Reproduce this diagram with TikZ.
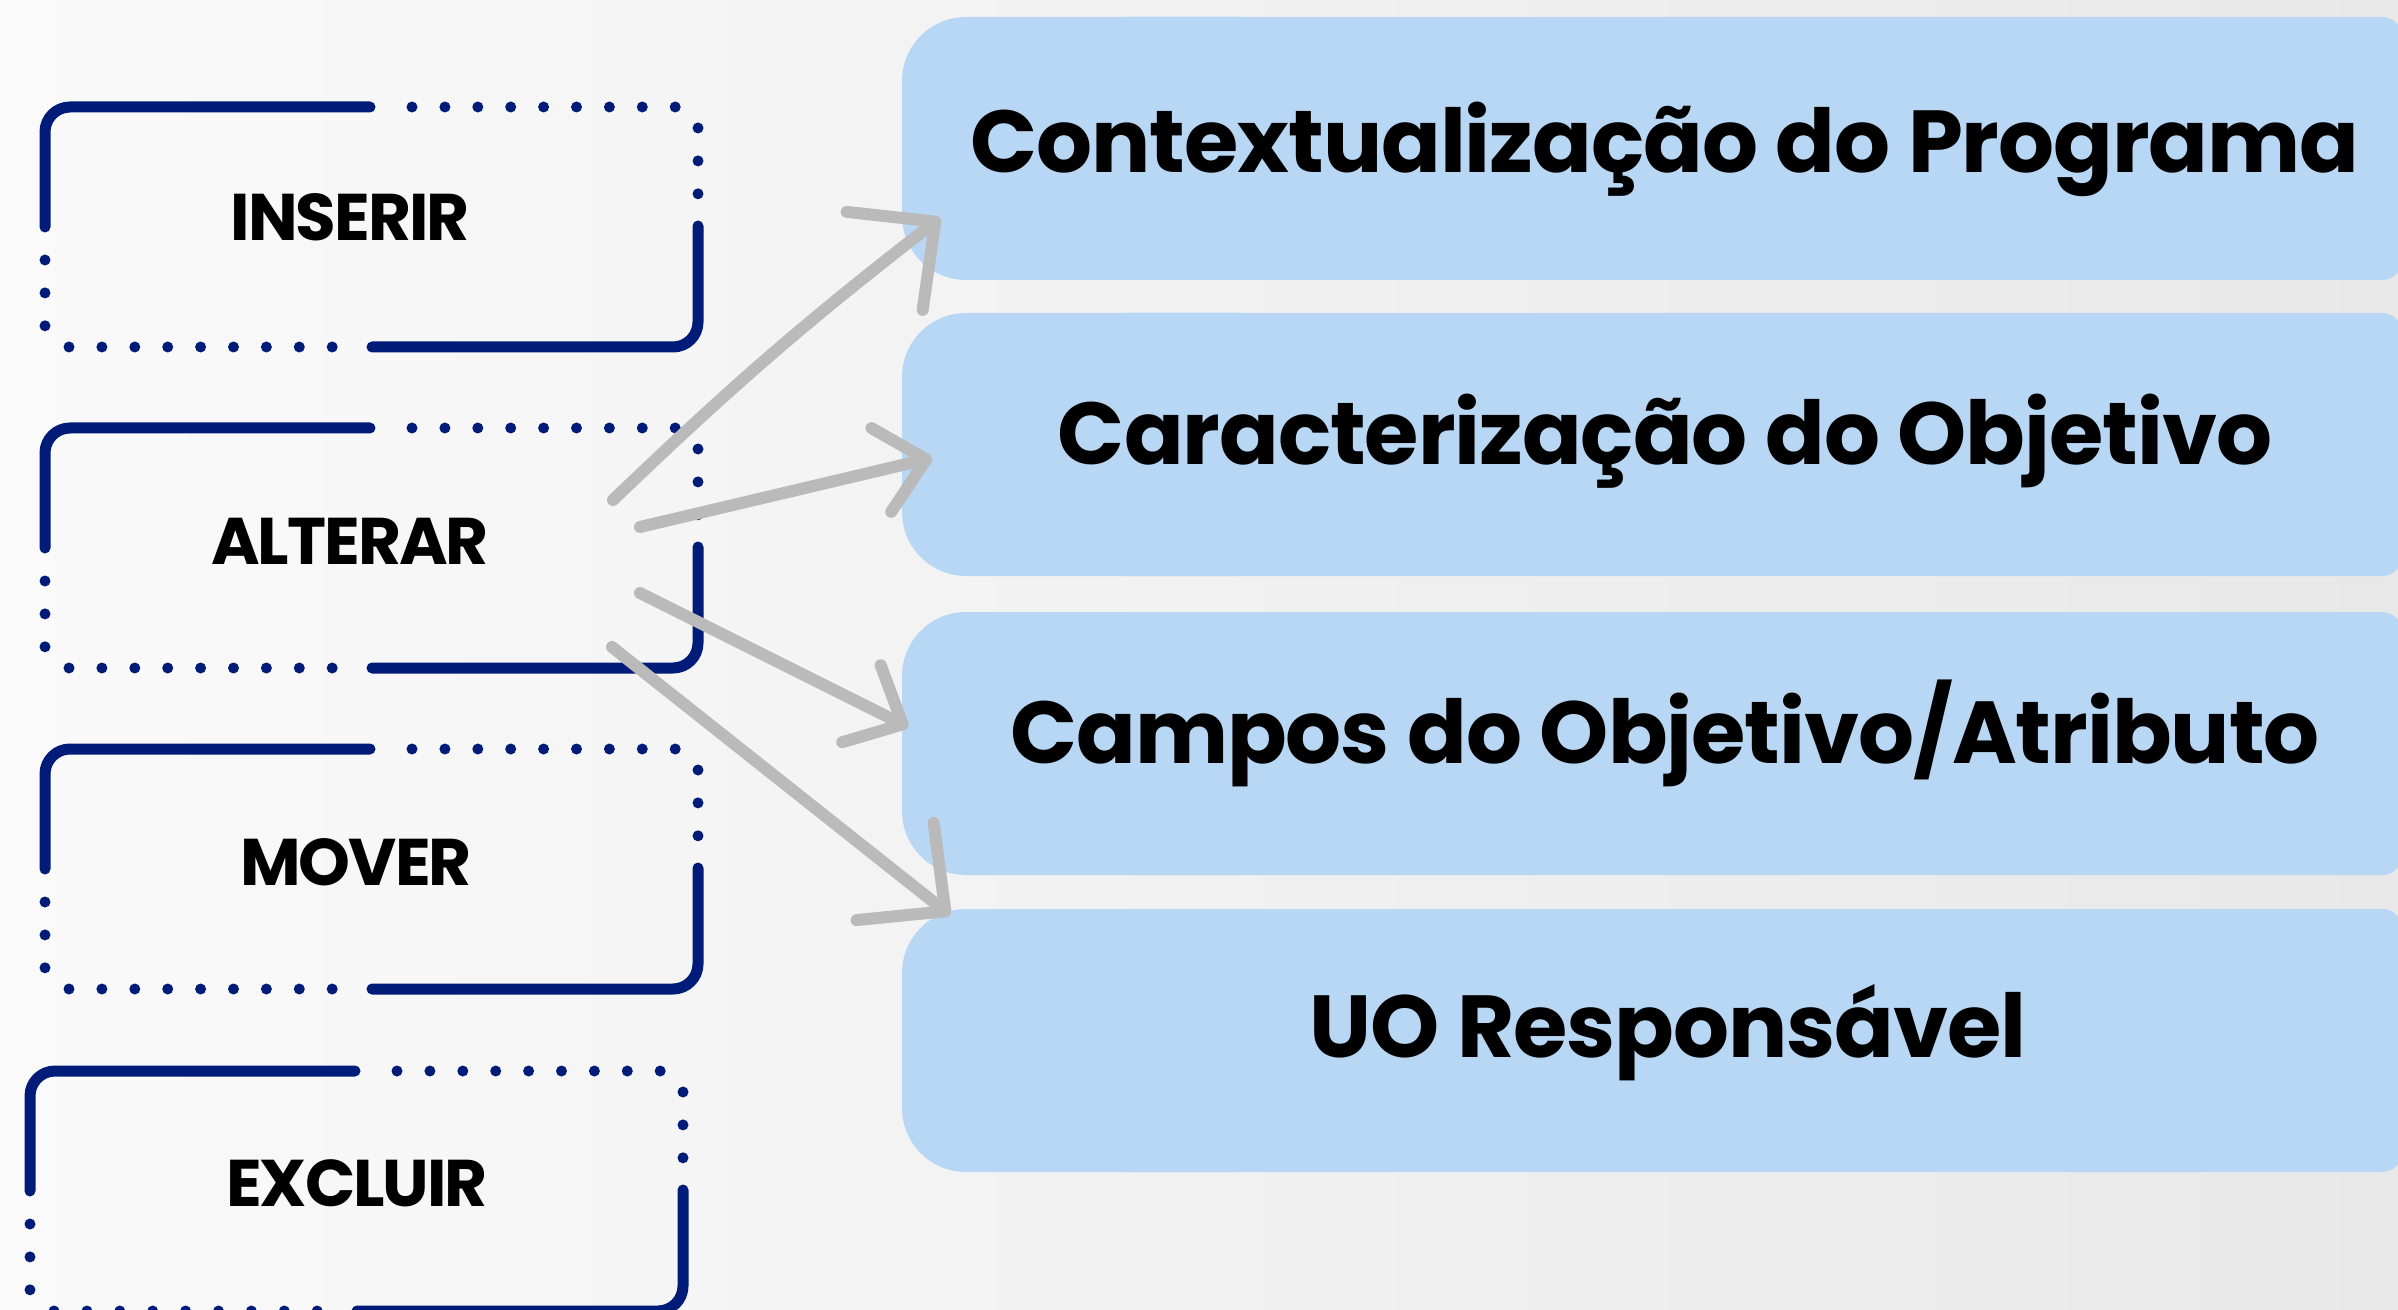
\documentclass[tikz,border=0pt]{standalone}
\usepackage{fontspec}
\setmainfont{Poppins}
\usetikzlibrary{calc,arrows.meta}
\definecolor{navy}{HTML}{001C78}
\definecolor{skyfill}{HTML}{B8D7F4}
\definecolor{pencilgray}{HTML}{BABABA}
\def\drawnavy{\draw[navy, line width=5.5pt, line cap=round, rounded corners=12.5pt]}
\def\drawdots{\draw[navy, line width=5.5pt, line cap=round, dash pattern=on 0pt off 16.45pt]}
\def\fillsky{\fill[skyfill]}

\begin{document}
\begin{tikzpicture}[x=0.5pt,y=-0.5pt,inner sep=0pt,
  pencilline/.style={draw=pencilgray, line width=6pt, line cap=round},
  bighead/.style={-{Straight Barb[length=32pt,width=62pt,round]}},
  smallhead/.style={-{Straight Barb[length=23pt,width=43pt,round]}},
  verbtext/.style={font=\bfseries\fontsize{33pt}{40pt}\selectfont\addfontfeature{LetterSpace=-3}},
  titletext/.style={font=\bfseries\fontsize{44pt}{52pt}\selectfont\addfontfeature{LetterSpace=-1.2}, anchor=base}]
\useasboundingbox (0,0) rectangle (2398,1310);
\shade[left color=black!2, middle color=white, right color=black!9] (0,0) rectangle (2398,1310);

% -------- blue boxes on the right ---------
% each box is a wide rounded left end and a tighter rounded right end
\coordinate (ctx) at (902,17); % top left of the box
\fillsky[rounded corners=32pt] (ctx) rectangle ($ (ctx) + (400,263) $);
\fillsky[rounded corners=10pt] ($ (ctx) + (200,0) $) rectangle ($ (ctx) + (1500,263) $);
\node[titletext] (ctxtext) at ($ (ctx) + (763,156) $) {Contextualização do Programa};

\coordinate (car) at (902,313);
\fillsky[rounded corners=32pt] (car) rectangle ($ (car) + (400,263) $);
\fillsky[rounded corners=10pt] ($ (car) + (200,0) $) rectangle ($ (car) + (1500,263) $);
\node[titletext] (cartext) at ($ (car) + (763,152) $) {Caracterização do Objetivo};

\coordinate (cmp) at (902,612);
\fillsky[rounded corners=32pt] (cmp) rectangle ($ (cmp) + (400,263) $);
\fillsky[rounded corners=10pt] ($ (cmp) + (200,0) $) rectangle ($ (cmp) + (1500,263) $);
\node[titletext] (cmptext) at ($ (cmp) + (763,151) $) {Campos do Objetivo/Atributo};

\coordinate (uo) at (902,909);
\fillsky[rounded corners=32pt] (uo) rectangle ($ (uo) + (400,263) $);
\fillsky[rounded corners=10pt] ($ (uo) + (200,0) $) rectangle ($ (uo) + (1500,263) $);
\node[titletext] (uotext) at ($ (uo) + (766,148) $) {UO Responsável};

% -------- INSERIR box ---------
% All coordinates are relative to the top left corner (o) of the box.
\coordinate (o) at (45,107);
\drawnavy ($ (o) + (0,120) $) -- (o) -- ($ (o) + (325,0) $);
\drawnavy ($ (o) + (653,119) $) -- ($ (o) + (653,240) $) -- ($ (o) + (327,240) $);
\drawdots ($ (o) + (367,0) $) -- ($ (o) + (631,0) $);
\drawdots ($ (o) + (653,21) $) -- ($ (o) + (653,88) $);
\drawdots ($ (o) + (24,240) $) -- ($ (o) + (288,240) $);
\drawdots ($ (o) + (0,153) $) -- ($ (o) + (0,220) $);
\node[verbtext] (inserir) at ($ (o) + (305,110) $) {INSERIR};
% ------ end INSERIR ------

% -------- ALTERAR box ---------
\coordinate (o) at (45,428);
\drawnavy ($ (o) + (0,120) $) -- (o) -- ($ (o) + (325,0) $);
\drawnavy ($ (o) + (653,119) $) -- ($ (o) + (653,240) $) -- ($ (o) + (327,240) $);
\drawdots ($ (o) + (367,0) $) -- ($ (o) + (631,0) $);
\drawdots ($ (o) + (653,21) $) -- ($ (o) + (653,88) $);
\drawdots ($ (o) + (24,240) $) -- ($ (o) + (288,240) $);
\drawdots ($ (o) + (0,153) $) -- ($ (o) + (0,220) $);
\node[verbtext] (alterar) at ($ (o) + (305,113) $) {ALTERAR};
% ------ end ALTERAR ------

% -------- MOVER box ---------
\coordinate (o) at (45,749);
\drawnavy ($ (o) + (0,120) $) -- (o) -- ($ (o) + (325,0) $);
\drawnavy ($ (o) + (653,119) $) -- ($ (o) + (653,240) $) -- ($ (o) + (327,240) $);
\drawdots ($ (o) + (367,0) $) -- ($ (o) + (631,0) $);
\drawdots ($ (o) + (653,21) $) -- ($ (o) + (653,88) $);
\drawdots ($ (o) + (24,240) $) -- ($ (o) + (288,240) $);
\drawdots ($ (o) + (0,153) $) -- ($ (o) + (0,220) $);
\node[verbtext] (mover) at ($ (o) + (311,113) $) {MOVER};
% ------ end MOVER ------

% -------- EXCLUIR box ---------
\coordinate (o) at (30,1071);
\drawnavy ($ (o) + (0,120) $) -- (o) -- ($ (o) + (325,0) $);
\drawnavy ($ (o) + (653,119) $) -- ($ (o) + (653,240) $) -- ($ (o) + (327,240) $);
\drawdots ($ (o) + (367,0) $) -- ($ (o) + (631,0) $);
\drawdots ($ (o) + (653,21) $) -- ($ (o) + (653,88) $);
\drawdots ($ (o) + (24,240) $) -- ($ (o) + (288,240) $);
\drawdots ($ (o) + (0,153) $) -- ($ (o) + (0,220) $);
\node[verbtext] (excluir) at ($ (o) + (327,112) $) {EXCLUIR};
% ------ end EXCLUIR ------

% The pencil arrows from ALTERAR to the blue boxes
\coordinate (alt1) at ($ (alterar) + (263,-41) $);
\coordinate (alt2) at ($ (alterar) + (290,-14) $);
\coordinate (alt3) at ($ (alterar) + (290,52) $);
\coordinate (alt4) at ($ (alterar) + (262,106) $);
\coordinate (ctxin) at ($ (ctx) + (38,201) $);
\coordinate (carin) at ($ (car) + (30,145) $);
\coordinate (cmpin) at ($ (cmp) + (6,115) $);
\coordinate (uoin) at ($ (uo) + (48,6) $);
\draw[pencilline, bighead] (alt1) to[bend left=3] (ctxin);
\draw[pencilline, smallhead] (alt2) to (carin);
\draw[pencilline, smallhead] (alt3) to (cmpin);
\draw[pencilline, bighead] (alt4) to (uoin);
\end{tikzpicture}
\end{document}
